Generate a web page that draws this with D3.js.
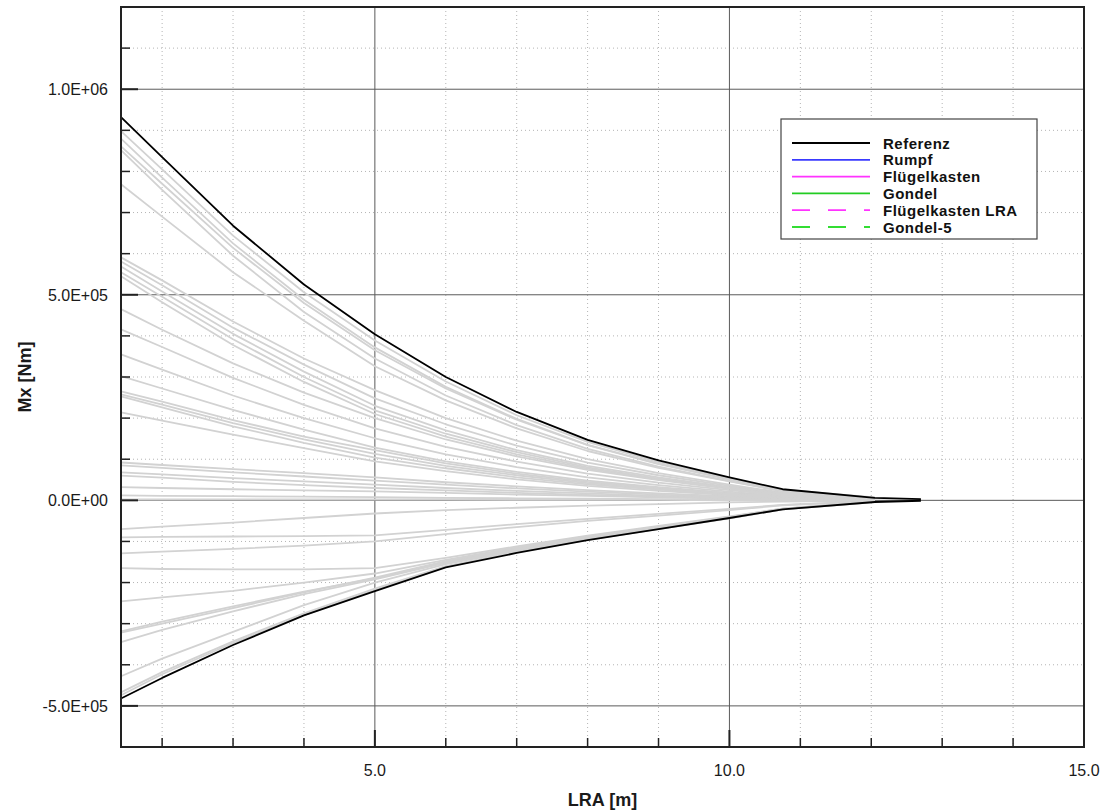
<!DOCTYPE html>
<html lang="de">
<head>
<meta charset="UTF-8">
<title>Mx ueber LRA</title>
<style>
  body { margin: 0; background: #fff; }
  text { font-family: "Liberation Sans", Arial, Helvetica, sans-serif; }
</style>
</head>
<body>
<svg id="chart" width="1106" height="812"></svg>
<script src="https://cdn.jsdelivr.net/npm/d3@7/dist/d3.min.js"></script>
<script>
// stations along the LRA [m]
const stations = [1.42, 2, 3, 4, 5, 6, 7, 8, 9, 10, 10.75, 12.05, 12.7];

// Referenz envelope, Mx in kNm
const refUpper = [932, 835, 668, 525, 404, 300, 215, 147, 97, 56, 27, 6, 3];
const refLower = [-482, -432, -352, -280, -221, -163, -128, -97, -70, -43, -22, -4, -1];

// other load cases (grey), Mx in kNm
const greyCases = [
  [898, 805, 644, 506, 389, 289, 207, 142, 93, 54, 26, 7],
  [880, 785, 625, 488, 372, 276, 198, 135, 89, 51, 25, 6],
  [861, 770, 614, 480, 365, 272, 196, 134, 88, 51, 24, 6],
  [852, 755, 595, 458, 345, 255, 183, 125, 82, 47, 23, 6],
  [769, 690, 555, 437, 326, 243, 175, 120, 79, 46, 22, 6],
  [591, 535, 435, 345, 268, 200, 145, 100, 66, 38, 19, 5],
  [581, 523, 420, 330, 248, 185, 133, 92, 61, 35, 17, 4],
  [569, 508, 405, 313, 230, 170, 122, 84, 56, 32, 16, 4],
  [555, 495, 392, 300, 219, 162, 117, 80, 53, 31, 15, 4],
  [545, 482, 378, 288, 210, 155, 112, 77, 51, 30, 14, 3],
  [465, 415, 333, 262, 200, 148, 107, 74, 49, 28, 14, 3],
  [416, 373, 298, 232, 175, 130, 94, 65, 43, 25, 12, 3],
  [355, 318, 255, 200, 151, 112, 81, 56, 37, 21, 10, 3],
  [302, 272, 220, 172, 128, 95, 69, 48, 32, 18, 9, 2],
  [265, 240, 195, 155, 122, 90, 65, 45, 30, 17, 8, 2],
  [258, 233, 188, 148, 113, 84, 61, 42, 28, 16, 8, 2],
  [253, 226, 180, 140, 104, 78, 56, 39, 26, 15, 7, 2],
  [214, 194, 160, 127, 95, 71, 51, 35, 23, 13, 7, 2],
  [92, 86, 76, 66, 56, 44, 34, 25, 17, 10, 5, 1],
  [85, 79, 68, 58, 48, 38, 29, 21, 14, 8, 4, 1],
  [68, 63, 54, 46, 38, 30, 23, 17, 11, 7, 3, 1],
  [60, 55, 45, 37, 30, 24, 18, 13, 9, 5, 3, 1],
  [32, 30, 27, 24, 22, 18, 14, 11, 7, 4, 2, 0],
  [12, 11, 10, 9, 8, 6, 5, 4, 3, 2, 1, 0],
  [2, 2, 2, 2, 2, 2, 1, 1, 1, 0, 0, 0],
  [-70, -64, -54, -43, -32, -24, -18, -13, -9, -5, -3, -1],
  [-90, -89, -88, -87, -85, -72, -58, -45, -33, -21, -11, -2],
  [-129, -125, -118, -110, -100, -82, -65, -50, -37, -24, -12, -2],
  [-165, -167, -168, -168, -165, -140, -112, -86, -62, -39, -20, -3],
  [-246, -236, -220, -200, -178, -145, -115, -88, -64, -40, -20, -3],
  [-319, -295, -258, -222, -190, -150, -118, -90, -66, -42, -21, -3],
  [-322, -300, -262, -224, -188, -148, -116, -89, -65, -41, -21, -3],
  [-345, -315, -270, -228, -192, -152, -120, -92, -67, -42, -21, -3],
  [-428, -385, -320, -255, -200, -155, -122, -93, -68, -43, -22, -3],
  [-467, -418, -343, -275, -215, -160, -125, -95, -69, -43, -22, -4],
  [-474, -423, -347, -279, -218, -161, -126, -96, -70, -44, -22, -4]
];

const xMajor = [5, 10, 15];
const xMinor = [2, 3, 4, 6, 7, 8, 9, 11, 12, 13, 14];
const yMajor = [-5e5, 0, 5e5, 1e6];
const yMinor = [-4e5, -3e5, -2e5, -1e5, 1e5, 2e5, 3e5, 4e5, 6e5, 7e5, 8e5, 9e5, 1.1e6];

const legendNames = ["Referenz", "Rumpf", "Flügelkasten", "Gondel", "Flügelkasten LRA", "Gondel-5"];
const legendColors = ["#000000", "#3a3aff", "#ff33ff", "#22cc22", "#ff33ff", "#33dd33"];
const legendDashed = [false, false, false, false, true, true];

const svg = d3.select("#chart");
const pLeft = 121, pRight = 1084, pTop = 7, pBottom = 747;

const x = d3.scaleLinear().domain([1.42, 15]).range([pLeft, pRight]);
const y = d3.scaleLinear().domain([-6e5, 1.2e6]).range([pBottom, pTop]);

// "1.0E+06" style labels, with a plain hyphen for the minus
const sciFormat = d => d3.format(".1e")(d)
  .replace("\u2212", "-")
  .replace("e", "E")
  .replace(/E([+-])(\d)$/, "E$10$2");

svg.append("rect").attr("width", 1106).attr("height", 812).attr("fill", "#fff");

// minor grid
svg.append("g")
  .selectAll("line")
  .data(xMinor)
  .join("line")
    .attr("x1", d => x(d)).attr("x2", d => x(d))
    .attr("y1", pTop).attr("y2", pBottom)
    .attr("stroke", "#b4b4b4").attr("stroke-width", 1)
    .attr("stroke-dasharray", "1,3");

svg.append("g")
  .selectAll("line")
  .data(yMinor)
  .join("line")
    .attr("x1", pLeft).attr("x2", pRight)
    .attr("y1", d => y(d)).attr("y2", d => y(d))
    .attr("stroke", "#b4b4b4").attr("stroke-width", 1)
    .attr("stroke-dasharray", "1,3");

// major grid
svg.append("g")
  .selectAll("line")
  .data(xMajor)
  .join("line")
    .attr("x1", d => x(d)).attr("x2", d => x(d))
    .attr("y1", pTop).attr("y2", pBottom)
    .attr("stroke", "#5a5a5a").attr("stroke-width", 1);

svg.append("g")
  .selectAll("line")
  .data(yMajor)
  .join("line")
    .attr("x1", pLeft).attr("x2", pRight)
    .attr("y1", d => y(d)).attr("y2", d => y(d))
    .attr("stroke", "#5a5a5a").attr("stroke-width", 1);

const line = d3.line()
  .x((d, i) => x(stations[i]))
  .y(d => y(d * 1000));

// grey load cases
svg.append("g")
  .selectAll("path")
  .data(greyCases)
  .join("path")
    .attr("d", line)
    .attr("fill", "none")
    .attr("stroke", "#d2d2d2")
    .attr("stroke-width", 1.8)
    .attr("stroke-linejoin", "round");

// Referenz
svg.append("g")
  .selectAll("path")
  .data([refUpper, refLower])
  .join("path")
    .attr("d", line)
    .attr("fill", "none")
    .attr("stroke", "#000")
    .attr("stroke-width", 1.8)
    .attr("stroke-linejoin", "round");

// ticks (inside)
const tickG = svg.append("g").attr("stroke", "#222");
tickG.selectAll(".ymaj").data(yMajor).join("line")
  .attr("x1", pLeft).attr("x2", pLeft + 17)
  .attr("y1", d => y(d)).attr("y2", d => y(d)).attr("stroke-width", 2);
tickG.selectAll(".ymin").data(yMinor).join("line")
  .attr("x1", pLeft).attr("x2", pLeft + 9)
  .attr("y1", d => y(d)).attr("y2", d => y(d)).attr("stroke-width", 1.5);
tickG.selectAll(".xmaj").data(xMajor).join("line")
  .attr("x1", d => x(d)).attr("x2", d => x(d))
  .attr("y1", pBottom).attr("y2", pBottom - 17).attr("stroke-width", 2);
tickG.selectAll(".xmin").data(xMinor).join("line")
  .attr("x1", d => x(d)).attr("x2", d => x(d))
  .attr("y1", pBottom).attr("y2", pBottom - 9).attr("stroke-width", 1.5);

// frame
svg.append("rect")
  .attr("x", pLeft).attr("y", pTop)
  .attr("width", pRight - pLeft).attr("height", pBottom - pTop)
  .attr("fill", "none").attr("stroke", "#222").attr("stroke-width", 2);

// tick labels
svg.append("g")
  .selectAll("text")
  .data(yMajor)
  .join("text")
    .attr("x", 108).attr("y", d => y(d) + 6)
    .attr("text-anchor", "end")
    .attr("font-size", 16)
    .attr("fill", "#1a1a1a")
    .text(sciFormat);

svg.append("g")
  .selectAll("text")
  .data(xMajor)
  .join("text")
    .attr("x", d => x(d)).attr("y", 776)
    .attr("text-anchor", "middle")
    .attr("font-size", 16)
    .attr("fill", "#1a1a1a")
    .text(d => d3.format(".1f")(d));

// axis titles
svg.append("text")
  .attr("x", (pLeft + pRight) / 2).attr("y", 806)
  .attr("text-anchor", "middle")
  .attr("font-size", 18).attr("font-weight", "bold")
  .attr("fill", "#1a1a1a")
  .text("LRA [m]");

svg.append("text")
  .attr("transform", `translate(31,${(pTop + pBottom) / 2}) rotate(-90)`)
  .attr("text-anchor", "middle")
  .attr("font-size", 18).attr("font-weight", "bold")
  .attr("fill", "#1a1a1a")
  .text("Mx [Nm]");

// legend
const lg = svg.append("g").attr("transform", "translate(781,119)");
lg.append("rect")
  .attr("width", 256).attr("height", 120)
  .attr("fill", "#fff").attr("stroke", "#444").attr("stroke-width", 1.2);

const rows = lg.selectAll("g")
  .data(legendNames)
  .join("g")
    .attr("transform", (d, i) => `translate(0,${24 + i * 16.8})`);

rows.append("line")
  .attr("x1", 11).attr("x2", 89)
  .attr("stroke", (d, i) => legendColors[i])
  .attr("stroke-width", 1.8)
  .attr("stroke-dasharray", (d, i) => legendDashed[i] ? "18,18" : null);

rows.append("text")
  .attr("x", 102).attr("y", 5.5)
  .attr("font-size", 15).attr("font-weight", "bold")
  .attr("letter-spacing", 0.5)
  .attr("fill", "#111")
  .text(d => d);
</script>
</body>
</html>
